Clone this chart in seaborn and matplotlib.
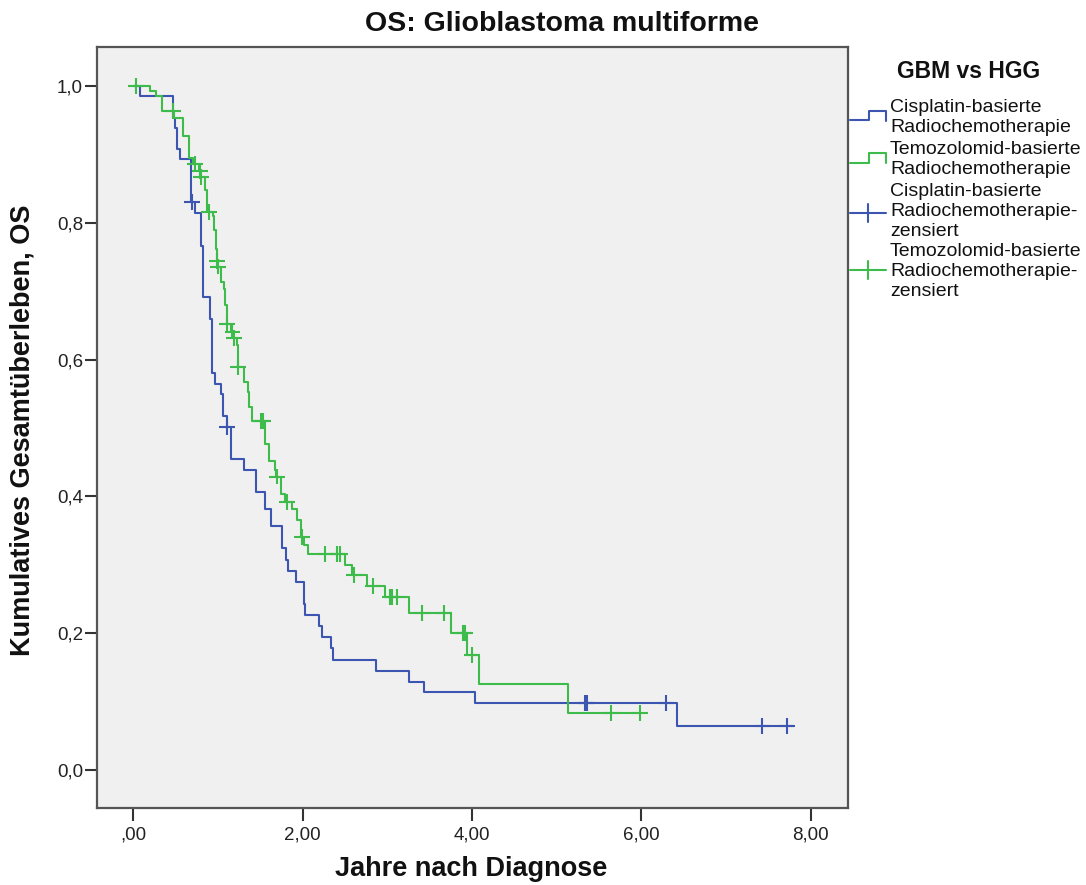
import numpy as np
import pandas as pd
import matplotlib
matplotlib.use("Agg")
import matplotlib.pyplot as plt
from matplotlib.ticker import FixedLocator, FuncFormatter
import seaborn as sns

# ---------------- data ----------------
groups = ["Cisplatin-basierte Radiochemotherapie", "Temozolomid-basierte Radiochemotherapie"]

cis_time = [0.00, 0.08, 0.47, 0.49, 0.52, 0.55, 0.68, 0.73, 0.80, 0.82, 0.90, 0.93, 0.96,
            1.04, 1.06, 1.10, 1.15, 1.31, 1.45, 1.56, 1.63, 1.76, 1.80, 1.82, 1.92, 2.02,
            2.03, 2.19, 2.23, 2.33, 2.36, 2.87, 3.25, 3.43, 4.03, 6.42, 7.79]
cis_surv = [1.000, 0.985, 0.953, 0.938, 0.908, 0.893, 0.830, 0.815, 0.766, 0.691, 0.659,
            0.581, 0.564, 0.549, 0.517, 0.502, 0.454, 0.438, 0.406, 0.381, 0.356, 0.325,
            0.307, 0.291, 0.275, 0.243, 0.227, 0.211, 0.195, 0.179, 0.161, 0.145, 0.129,
            0.114, 0.098, 0.064, 0.064]
cis_cens_time = [0.69, 1.11, 5.33, 5.36, 6.29, 7.43, 7.72]
cis_cens_surv = [0.830, 0.502, 0.098, 0.098, 0.098, 0.064, 0.064]

tmz_time = [0.00, 0.20, 0.27, 0.34, 0.48, 0.585, 0.656, 0.70, 0.77, 0.79, 0.843, 0.87,
            0.937, 0.95, 0.97, 0.984, 0.995, 1.04, 1.066, 1.08, 1.10, 1.11, 1.15, 1.18,
            1.218, 1.23, 1.24, 1.31, 1.35, 1.37, 1.405, 1.557, 1.60, 1.674, 1.69, 1.745,
            1.79, 1.873, 1.93, 1.98, 2.01, 2.06, 2.50, 2.58, 2.76, 2.97, 3.25, 3.75, 3.94,
            4.08, 5.13, 5.98]
tmz_surv = [1.000, 0.993, 0.985, 0.963, 0.953, 0.927, 0.895, 0.886, 0.876, 0.867, 0.848,
            0.816, 0.810, 0.790, 0.761, 0.744, 0.736, 0.714, 0.703, 0.680, 0.662, 0.652,
            0.641, 0.631, 0.622, 0.600, 0.589, 0.567, 0.553, 0.531, 0.510, 0.476, 0.452,
            0.439, 0.429, 0.403, 0.392, 0.381, 0.366, 0.341, 0.329, 0.316, 0.300, 0.285,
            0.269, 0.253, 0.230, 0.200, 0.168, 0.126, 0.083, 0.083]
tmz_cens_time = [0.035, 0.47, 0.726, 0.785, 0.796, 0.89, 0.984, 0.995, 1.11, 1.17, 1.19,
                 1.24, 1.51, 1.53, 1.70, 1.815, 1.99, 2.26, 2.41, 2.44, 2.61, 2.83, 3.03,
                 3.06, 3.11, 3.41, 3.67, 3.89, 3.92, 4.00, 5.64, 5.98]
tmz_cens_surv = [1.000, 0.963, 0.886, 0.876, 0.867, 0.816, 0.744, 0.736, 0.652, 0.641,
                 0.631, 0.589, 0.510, 0.510, 0.429, 0.392, 0.341, 0.316, 0.316, 0.316,
                 0.285, 0.269, 0.253, 0.253, 0.253, 0.230, 0.230, 0.200, 0.200, 0.168,
                 0.083, 0.083]

x_ticks = [0, 2, 4, 6, 8]
y_ticks = [0.0, 0.2, 0.4, 0.6, 0.8, 1.0]

title = "OS: Glioblastoma multiforme"
xlabel = "Jahre nach Diagnose"
ylabel = "Kumulatives Gesamtüberleben, OS"
legend_title = "GBM vs HGG"
legend_labels = [
    ["Cisplatin-basierte", "Radiochemotherapie"],
    ["Temozolomid-basierte", "Radiochemotherapie"],
    ["Cisplatin-basierte", "Radiochemotherapie-", "zensiert"],
    ["Temozolomid-basierte", "Radiochemotherapie-", "zensiert"],
]

# ---------------- style ----------------
sns.set_style("white")
plt.rcParams["font.family"] = ["Liberation Sans", "DejaVu Sans"]

BLUE = "#3b55b0"
GREEN = "#3dbb4b"
palette = {groups[0]: BLUE, groups[1]: GREEN}

lines_df = pd.concat([
    pd.DataFrame({"time": cis_time, "surv": cis_surv, "group": groups[0]}),
    pd.DataFrame({"time": tmz_time, "surv": tmz_surv, "group": groups[1]}),
], ignore_index=True)
cens_df = pd.concat([
    pd.DataFrame({"time": cis_cens_time, "surv": cis_cens_surv, "group": groups[0]}),
    pd.DataFrame({"time": tmz_cens_time, "surv": tmz_cens_surv, "group": groups[1]}),
], ignore_index=True)

W, H = 1086, 885
fig = plt.figure(figsize=(W / 100, H / 100), dpi=100)
fig.patch.set_facecolor("white")

L, R, T, B = 97, 848, 47, 808
ax = fig.add_axes([L / W, 1 - B / H, (R - L) / W, (B - T) / H])
ax.set_facecolor("#f0f0f0")

sns.lineplot(data=lines_df, x="time", y="surv", hue="group", palette=palette,
             drawstyle="steps-post", estimator=None, sort=False, legend=False,
             linewidth=1.5, ax=ax)
sns.scatterplot(data=cens_df, x="time", y="surv", hue="group", palette=palette,
                marker="+", s=130, linewidth=1.5, legend=False, ax=ax, zorder=3)

ax.set_xlim(-0.43, 8.44)
ax.set_ylim(-0.0556, 1.057)
ax.xaxis.set_major_locator(FixedLocator(x_ticks))
ax.yaxis.set_major_locator(FixedLocator(y_ticks))


def fmt_x(v, pos):
    s = f"{v:.2f}".replace(".", ",")
    return s[1:] if s.startswith("0") else s


ax.xaxis.set_major_formatter(FuncFormatter(fmt_x))
ax.yaxis.set_major_formatter(FuncFormatter(lambda v, p: f"{v:.1f}".replace(".", ",")))
ax.tick_params(axis="both", direction="out", length=9, width=1.5, color="#333333",
               labelsize=13.5, labelcolor="#222222", bottom=True, left=True)
ax.tick_params(axis="x", pad=4)
ax.tick_params(axis="y", pad=1)
for sp in ax.spines.values():
    sp.set_visible(True)
    sp.set_color("#555555")
    sp.set_linewidth(1.6)
ax.set_xlabel("")
ax.set_ylabel("")

fig.text(471 / W, 1 - 869 / H, xlabel, ha="center", va="center",
         fontsize=19.5, fontweight="bold", color="#111111")
fig.text(23 / W, 1 - 430 / H, ylabel, ha="center", va="center", rotation=90,
         fontsize=19.5, fontweight="bold", color="#111111")
fig.text(562 / W, 1 - 24 / H, title, ha="center", va="center",
         fontsize=20.5, fontweight="bold", color="#111111")

# ---------------- legend ----------------
lax = fig.add_axes([0, 0, 1, 1], facecolor="none")
lax.set_xlim(0, W)
lax.set_ylim(H, 0)
lax.axis("off")
lax.text(969, 72, legend_title, ha="center", va="center", fontsize=16.5,
         fontweight="bold", color="#111111")

lax.plot([850, 869, 869, 886, 886], [120, 120, 111, 111, 121], color=BLUE, lw=1.5)
lax.plot([850, 869, 869, 886, 886], [163, 163, 153, 153, 163], color=GREEN, lw=1.5)
lax.plot([850, 886], [213, 213], color=BLUE, lw=1.5)
lax.plot([868, 868], [204, 222], color=BLUE, lw=1.5)
lax.plot([850, 886], [270, 270], color=GREEN, lw=1.5)
lax.plot([868, 868], [261, 279], color=GREEN, lw=1.5)

line_y = [[107, 127], [149, 169], [192, 212, 232], [252, 272, 292]]
for labels, ys in zip(legend_labels, line_y):
    for lab, yy in zip(labels, ys):
        lax.text(890, yy, lab, ha="left", va="center", fontsize=14, color="#111111")

fig.savefig("out.png", dpi=100, facecolor="white")
